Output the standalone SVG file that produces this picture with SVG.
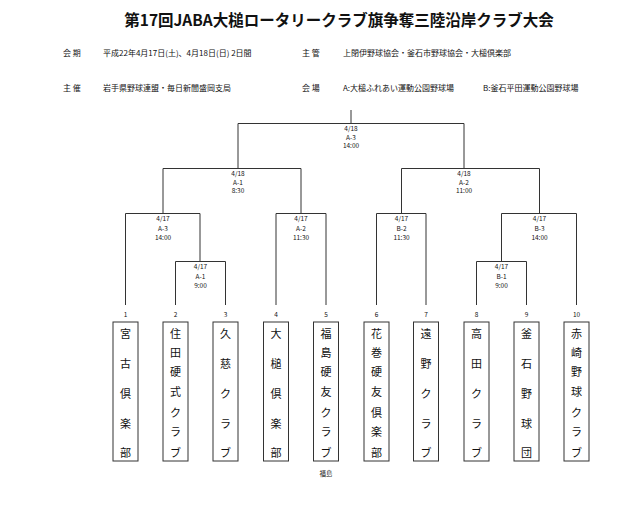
<svg xmlns="http://www.w3.org/2000/svg" width="640" height="510" viewBox="0 0 640 510">
<style>
text{font-family:"Noto Sans CJK JP","Liberation Sans",sans-serif;fill:#111}
.t{font-size:15.5px;font-weight:bold}
.h{font-size:8px}
.m{font-size:6.5px;text-anchor:middle}
.n{font-size:11px;text-anchor:middle}
.b{fill:#fff;stroke:#333;stroke-width:1}
#connectors path{fill:none;stroke:#333;stroke-width:1}
</style>
<rect width="640" height="510" fill="#fff"/>
<g id="header">
<text class="t" x="339" y="26" text-anchor="middle">第17回JABA大槌ロータリークラブ旗争奪三陸沿岸クラブ大会</text>
<text class="h" x="63" y="56">会 期</text>
<text class="h" x="103" y="56">平成22年4月17日(土)、4月18日(日) 2日間</text>
<text class="h" x="302" y="56">主 管</text>
<text class="h" x="343" y="56">上閉伊野球協会・釜石市野球協会・大槌倶楽部</text>
<text class="h" x="63" y="91">主 催</text>
<text class="h" x="103" y="91">岩手県野球連盟・毎日新聞盛岡支局</text>
<text class="h" x="302" y="91">会 場</text>
<text class="h" x="343" y="91">A:大槌ふれあい運動公園野球場</text>
<text class="h" x="483" y="91">B:釜石平田運動公園野球場</text>
</g>
<g id="connectors">
<path d="M351 110V123.5M238 168.5V123.5H464V168.5"/>
<path d="M163 213.5V168.5H301V213.5M401.5 213.5V168.5H539.5V213.5"/>
<path d="M125.5 305V213.5H200V261.5M276 305V213.5H326V305M376.5 305V213.5H426V305M501.5 261.5V213.5H576.5V305"/>
<path d="M175.5 305V261.5H225.5V305M476.5 305V261.5H526.5V305"/>
</g>
<g id="labels">
<text class="m" x="351" y="131">4/18</text><text class="m" x="351" y="139.5">A-3</text><text class="m" x="351" y="148">14:00</text>
<text class="m" x="238" y="176">4/18</text><text class="m" x="238" y="184.5">A-1</text><text class="m" x="238" y="193">8:30</text>
<text class="m" x="464" y="176">4/18</text><text class="m" x="464" y="184.5">A-2</text><text class="m" x="464" y="193">11:00</text>
<text class="m" x="163" y="221">4/17</text><text class="m" x="163" y="231">A-3</text><text class="m" x="163" y="240">14:00</text>
<text class="m" x="301" y="221">4/17</text><text class="m" x="301" y="231">A-2</text><text class="m" x="301" y="240">11:30</text>
<text class="m" x="401.5" y="221">4/17</text><text class="m" x="401.5" y="231">B-2</text><text class="m" x="401.5" y="240">11:30</text>
<text class="m" x="539.5" y="221">4/17</text><text class="m" x="539.5" y="231">B-3</text><text class="m" x="539.5" y="240">14:00</text>
<text class="m" x="200.5" y="269">4/17</text><text class="m" x="200.5" y="279">A-1</text><text class="m" x="200.5" y="288">9:00</text>
<text class="m" x="501.5" y="269">4/17</text><text class="m" x="501.5" y="279">B-1</text><text class="m" x="501.5" y="288">9:00</text>
<text class="m" x="125.5" y="317">1</text><text class="m" x="175.5" y="317">2</text><text class="m" x="225.5" y="317">3</text><text class="m" x="276" y="317">4</text><text class="m" x="326" y="317">5</text><text class="m" x="376.5" y="317">6</text><text class="m" x="426" y="317">7</text><text class="m" x="476.5" y="317">8</text><text class="m" x="526.5" y="317">9</text><text class="m" x="576.5" y="317">10</text>
<text class="m" x="326" y="476">福島</text>
</g>
<g id="team1"><rect class="b" x="113" y="322" width="25" height="139"/><text class="n" x="125.5"><tspan x="125.5" y="338">宮</tspan><tspan x="125.5" y="368">古</tspan><tspan x="125.5" y="398">倶</tspan><tspan x="125.5" y="428">楽</tspan><tspan x="125.5" y="457">部</tspan></text></g>
<g id="team2"><rect class="b" x="163" y="322" width="25" height="139"/><text class="n"><tspan x="175.5" y="338">住</tspan><tspan x="175.5" y="357">田</tspan><tspan x="175.5" y="376">硬</tspan><tspan x="175.5" y="396">式</tspan><tspan x="175.5" y="417">ク</tspan><tspan x="175.5" y="436">ラ</tspan><tspan x="175.5" y="457">ブ</tspan></text></g>
<g id="team3"><rect class="b" x="213" y="322" width="25" height="139"/><text class="n"><tspan x="225.5" y="338">久</tspan><tspan x="225.5" y="368">慈</tspan><tspan x="225.5" y="398">ク</tspan><tspan x="225.5" y="428">ラ</tspan><tspan x="225.5" y="457">ブ</tspan></text></g>
<g id="team4"><rect class="b" x="263.5" y="322" width="25" height="139"/><text class="n"><tspan x="276" y="338">大</tspan><tspan x="276" y="368">槌</tspan><tspan x="276" y="398">倶</tspan><tspan x="276" y="428">楽</tspan><tspan x="276" y="457">部</tspan></text></g>
<g id="team5"><rect class="b" x="313.5" y="322" width="25" height="139"/><text class="n"><tspan x="326" y="338">福</tspan><tspan x="326" y="357">島</tspan><tspan x="326" y="376">硬</tspan><tspan x="326" y="396">友</tspan><tspan x="326" y="417">ク</tspan><tspan x="326" y="436">ラ</tspan><tspan x="326" y="457">ブ</tspan></text></g>
<g id="team6"><rect class="b" x="364" y="322" width="25" height="139"/><text class="n"><tspan x="376.5" y="338">花</tspan><tspan x="376.5" y="357">巻</tspan><tspan x="376.5" y="376">硬</tspan><tspan x="376.5" y="396">友</tspan><tspan x="376.5" y="417">倶</tspan><tspan x="376.5" y="436">楽</tspan><tspan x="376.5" y="457">部</tspan></text></g>
<g id="team7"><rect class="b" x="413.5" y="322" width="25" height="139"/><text class="n"><tspan x="426" y="338">遠</tspan><tspan x="426" y="368">野</tspan><tspan x="426" y="398">ク</tspan><tspan x="426" y="428">ラ</tspan><tspan x="426" y="457">ブ</tspan></text></g>
<g id="team8"><rect class="b" x="464" y="322" width="25" height="139"/><text class="n"><tspan x="476.5" y="338">高</tspan><tspan x="476.5" y="368">田</tspan><tspan x="476.5" y="398">ク</tspan><tspan x="476.5" y="428">ラ</tspan><tspan x="476.5" y="457">ブ</tspan></text></g>
<g id="team9"><rect class="b" x="514" y="322" width="25" height="139"/><text class="n"><tspan x="526.5" y="338">釜</tspan><tspan x="526.5" y="368">石</tspan><tspan x="526.5" y="398">野</tspan><tspan x="526.5" y="428">球</tspan><tspan x="526.5" y="457">団</tspan></text></g>
<g id="team10"><rect class="b" x="564" y="322" width="25" height="139"/><text class="n"><tspan x="576.5" y="338">赤</tspan><tspan x="576.5" y="357">崎</tspan><tspan x="576.5" y="376">野</tspan><tspan x="576.5" y="396">球</tspan><tspan x="576.5" y="417">ク</tspan><tspan x="576.5" y="436">ラ</tspan><tspan x="576.5" y="457">ブ</tspan></text></g>
</svg>
